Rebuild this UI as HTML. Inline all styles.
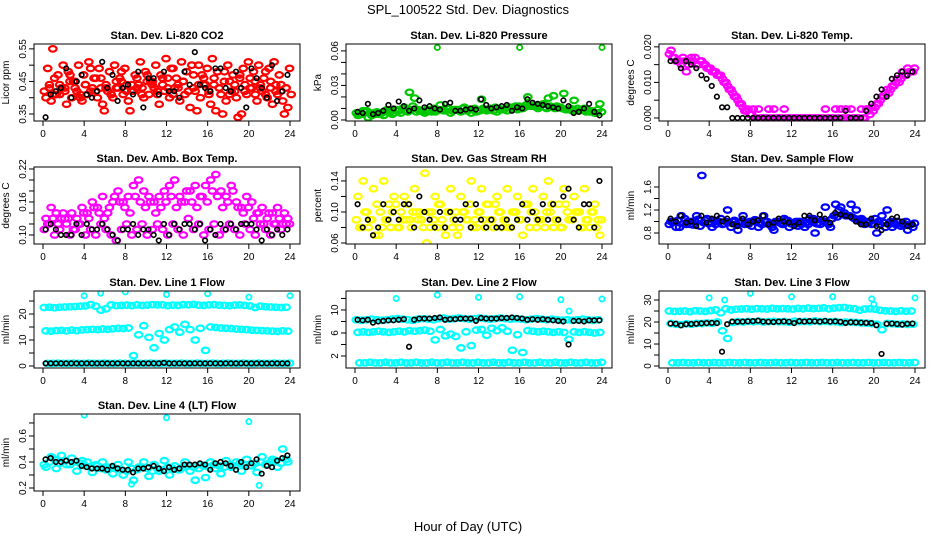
<!DOCTYPE html>
<html><head><meta charset="utf-8"><style>
html,body{margin:0;padding:0;background:#fff;}
svg{display:block;font-family:"Liberation Sans",sans-serif;}
</style></head><body>
<svg id="chart" width="936" height="540" viewBox="0 0 936 540">
<text x="468" y="14" text-anchor="middle" font-size="13">SPL_100522  Std. Dev. Diagnostics</text>
<text x="468" y="531" text-anchor="middle" font-size="13">Hour of Day (UTC)</text>
</svg>
<script>
const hourTicks=[0,4,8,12,16,20,24];
// CO2
const co2Red1=[0.42,0.44,0.46,0.41,0.43,0.47,0.45,0.40,0.44,0.49,0.42,0.46,0.43,0.41,0.45,0.48,0.44,0.42,0.46,0.43,0.47,0.45,0.41,0.44,0.46,0.49,0.43,0.45,0.42,0.47,0.50,0.44,0.41,0.46,0.43,0.48,0.45,0.42,0.47,0.44,0.46,0.41,0.43,0.48,0.45,0.42,0.44,0.43];
const co2Red2=[0.40,0.39,0.41,0.43,0.38,0.40,0.42,0.39,0.41,0.43,0.40,0.38,0.42,0.40,0.43,0.41,0.39,0.42,0.44,0.40,0.41,0.43,0.38,0.42,0.40,0.43,0.39,0.41,0.37,0.42,0.40,0.44,0.38,0.36,0.41,0.39,0.42,0.40,0.35,0.41,0.43,0.39,0.42,0.40,0.38,0.41,0.39,0.37];
const co2Red3=[0.49,0.55,0.47,0.50,0.48,0.45,0.50,0.47,0.51,0.46,0.49,0.36,0.48,0.50,0.46,0.49,0.36,0.47,0.51,0.48,0.45,0.50,0.47,0.52,0.49,0.46,0.51,0.48,0.50,0.36,0.47,0.49,0.52,0.48,0.35,0.50,0.47,0.34,0.49,0.51,0.48,0.50,0.46,0.49,0.51,0.47,0.35,0.49];
const co2Red4=[0.43,0.41,0.44,0.42,0.45,0.43,0.41,0.44,0.42,0.46,0.43,0.44,0.41,0.43,0.45,0.42,0.44,0.43,0.41,0.45,0.44,0.42,0.46,0.43,0.41,0.44,0.45,0.42,0.43,0.44,0.46,0.42,0.44,0.43,0.45,0.41,0.44,0.46,0.42,0.43,0.45,0.44,0.41,0.43,0.44,0.42,0.43,0.41];
const co2Black=[0.34,0.41,0.42,0.43,0.49,0.40,0.45,0.47,0.41,0.40,0.42,0.51,0.43,0.47,0.39,0.43,0.44,0.41,0.48,0.37,0.46,0.46,0.41,0.48,0.42,0.42,0.40,0.48,0.44,0.54,0.44,0.43,0.42,0.49,0.49,0.43,0.42,0.48,0.43,0.37,0.49,0.46,0.43,0.40,0.50,0.39,0.42,0.47];
// Pressure
const presGreen1=[0.006,0.005,0.008,0.004,0.007,0.006,0.009,0.005,0.008,0.010,0.007,0.012,0.009,0.007,0.008,0.010,0.009,0.008,0.010,0.009,0.008,0.011,0.009,0.010,0.008,0.009,0.010,0.011,0.009,0.010,0.011,0.012,0.010,0.013,0.012,0.011,0.013,0.010,0.011,0.012,0.010,0.009,0.008,0.010,0.009,0.008,0.007,0.009];
const presGreen2=[0.004,0.008,0.002,0.006,0.005,0.004,0.007,0.006,0.008,0.011,0.024,0.019,0.008,0.006,0.009,0.007,0.013,0.008,0.006,0.009,0.007,0.008,0.006,0.007,0.018,0.008,0.010,0.007,0.009,0.008,0.011,0.009,0.010,0.020,0.012,0.010,0.014,0.019,0.021,0.011,0.023,0.009,0.017,0.008,0.010,0.007,0.006,0.014];
const presGreen3=[0.005,0.007,0.006,0.005,0.006,0.008,0.007,0.009,0.006,0.008,0.009,0.007,0.008,0.009,0.007,0.008,0.009,0.010,0.008,0.009,0.010,0.008,0.009,0.008,0.010,0.009,0.008,0.010,0.009,0.011,0.010,0.012,0.011,0.012,0.013,0.012,0.011,0.012,0.010,0.011,0.009,0.010,0.008,0.009,0.007,0.008,0.006,0.007];
const presOutX=[8,16,24];
const presOutY=[0.063,0.063,0.063];
const presBlack=[0.007,0.006,0.014,0.005,0.006,0.008,0.013,0.010,0.016,0.012,0.008,0.010,0.017,0.011,0.012,0.010,0.009,0.014,0.015,0.008,0.008,0.009,0.010,0.009,0.018,0.013,0.010,0.011,0.012,0.013,0.008,0.011,0.010,0.018,0.015,0.014,0.013,0.012,0.011,0.010,0.017,0.012,0.006,0.007,0.010,0.014,0.007,0.004];
// Li-820 temp
const tempMag1=[0.018,0.017,0.016,0.016,0.016,0.017,0.016,0.015,0.014,0.013,0.012,0.010,0.008,0.006,0.004,0.002,0.001,0,0,0,0,0,0,0,0,0,0,0,0,0,0,0,0,0,0,0,0,0,0,0.001,0.003,0.005,0.007,0.008,0.010,0.011,0.012,0.013];
const tempMag2=[0.019,0.016,0.015,0.013,0.017,0.015,0.016,0.014,0.013,0.012,0.011,0.009,0.007,0.005,0.003,0.0025,0.0025,0.0025,0,0.0025,0.0025,0,0.0025,0,0,0,0,0,0,0,0.0025,0,0.0025,0.0025,0.0025,0.0025,0,0.0025,0.0025,0.003,0.004,0.006,0.008,0.009,0.011,0.013,0.014,0.013];
const tempMag3=[0.017,0.016,0.017,0.015,0.016,0.015,0.015,0.014,0.013,0.012,0.010,0.008,0.006,0.004,0.002,0.001,0,0,0,0,0,0,0,0,0,0,0,0,0,0,0,0,0,0,0,0,0,0,0.002,0.002,0.004,0.006,0.007,0.009,0.010,0.012,0.013,0.014];
const tempBlack=[0.016,0.016,0.014,0.016,0.015,0.014,0.012,0.011,0.009,0.006,0.003,0.003,0,0,0,0,0,0,0,0,0,0,0,0,0,0,0,0,0,0,0,0,0,0,0.002,0,0,0,0.002,0.004,0.006,0.008,0.006,0.011,0.012,0.013,0.012,0.013];
// Amb box temp
const ambLow=[0.11,0.12,0.10,0.11,0.13,0.10,0.11,0.12,0.10,0.11,0.10,0.12,0.11,0.10,0.09,0.11,0.12,0.10,0.11,0.12,0.10,0.11,0.12,0.11,0.10,0.12,0.11,0.10,0.13,0.11,0.12,0.10,0.11,0.12,0.10,0.11,0.12,0.11,0.10,0.12,0.11,0.10,0.12,0.11,0.10,0.12,0.11,0.12];
const ambHigh=[0.13,0.15,0.14,0.13,0.12,0.14,0.13,0.15,0.14,0.16,0.15,0.17,0.14,0.16,0.18,0.16,0.17,0.19,0.20,0.18,0.17,0.16,0.17,0.18,0.19,0.20,0.17,0.16,0.18,0.19,0.17,0.19,0.20,0.21,0.18,0.17,0.19,0.16,0.15,0.17,0.16,0.14,0.15,0.13,0.14,0.15,0.12,0.13];
const ambMid=[0.12,0.13,0.12,0.14,0.13,0.11,0.12,0.14,0.13,0.15,0.14,0.13,0.15,0.17,0.16,0.15,0.14,0.17,0.16,0.15,0.16,0.14,0.15,0.16,0.17,0.15,0.16,0.18,0.16,0.15,0.17,0.16,0.18,0.17,0.15,0.16,0.18,0.15,0.14,0.15,0.13,0.14,0.12,0.14,0.12,0.13,0.14,0.12];
const ambBlack=[0.11,0.12,0.11,0.10,0.10,0.10,0.12,0.10,0.12,0.11,0.11,0.12,0.11,0.10,0.09,0.11,0.11,0.12,0.10,0.11,0.11,0.10,0.09,0.12,0.10,0.12,0.11,0.12,0.12,0.11,0.12,0.09,0.11,0.10,0.12,0.11,0.12,0.11,0.12,0.12,0.12,0.11,0.09,0.11,0.10,0.11,0.10,0.11];
// Gas stream RH
const rhYel1=[0.09,0.08,0.10,0.09,0.11,0.08,0.09,0.10,0.08,0.09,0.11,0.10,0.09,0.08,0.10,0.09,0.11,0.08,0.10,0.09,0.08,0.10,0.11,0.09,0.10,0.08,0.09,0.11,0.10,0.09,0.08,0.10,0.09,0.11,0.10,0.08,0.09,0.10,0.11,0.09,0.08,0.10,0.09,0.10,0.08,0.09,0.10,0.09];
const rhYel2=[0.12,0.14,0.08,0.13,0.07,0.14,0.11,0.12,0.08,0.12,0.09,0.13,0.10,0.15,0.08,0.12,0.11,0.07,0.13,0.10,0.12,0.09,0.14,0.08,0.13,0.11,0.09,0.12,0.08,0.13,0.10,0.12,0.07,0.11,0.13,0.09,0.12,0.14,0.08,0.11,0.13,0.09,0.12,0.10,0.13,0.08,0.11,0.07];
const rhYel3=[0.08,0.10,0.09,0.07,0.10,0.09,0.08,0.11,0.10,0.09,0.08,0.10,0.09,0.06,0.10,0.08,0.09,0.10,0.08,0.07,0.10,0.09,0.08,0.10,0.09,0.11,0.08,0.10,0.09,0.08,0.10,0.09,0.11,0.08,0.10,0.09,0.08,0.10,0.09,0.08,0.11,0.09,0.10,0.08,0.09,0.10,0.08,0.09];
const rhBlack=[0.11,0.08,0.09,0.07,0.08,0.11,0.09,0.10,0.09,0.11,0.11,0.08,0.12,0.10,0.09,0.08,0.10,0.08,0.10,0.09,0.09,0.11,0.08,0.11,0.09,0.08,0.09,0.08,0.08,0.09,0.08,0.09,0.11,0.09,0.10,0.09,0.11,0.09,0.11,0.09,0.12,0.13,0.09,0.08,0.11,0.11,0.08,0.14];
// Sample flow
const flowBlue1=[0.95,1.0,0.9,1.05,0.95,1.0,0.92,1.02,0.98,0.95,1.05,1.0,0.9,0.95,1.0,0.98,0.92,1.02,0.95,1.0,0.9,1.0,0.95,1.02,0.98,0.92,1.0,0.95,1.05,0.98,1.0,0.95,1.1,1.2,1.15,1.1,1.05,1.0,0.95,1.0,1.05,0.95,0.9,1.0,0.95,0.92,1.0,0.95];
const flowBlue2=[1.0,0.9,1.1,0.95,1.0,1.1,1.8,1.05,0.9,1.0,0.95,1.2,1.0,0.85,1.1,0.95,1.0,0.9,1.1,0.95,0.85,1.0,1.05,0.9,0.95,1.0,0.9,1.05,0.8,0.95,1.25,0.9,1.3,1.25,1.1,1.3,1.2,1.05,1.0,0.95,0.8,1.1,1.2,0.9,1.0,0.95,0.85,0.9];
const flowBlue3=[0.98,1.02,0.96,1.0,0.94,1.04,0.98,0.96,1.02,1.0,0.96,0.98,1.02,0.97,0.95,1.0,1.03,0.97,0.99,0.94,1.0,0.97,1.02,0.96,1.0,0.95,0.98,1.0,0.96,1.02,0.98,1.05,1.08,1.12,1.1,1.07,1.04,1.02,0.98,0.96,1.0,0.98,0.95,0.97,0.99,0.96,0.94,0.97];
const flowBlack=[1.05,1.0,1.1,0.98,1.0,0.92,1.1,0.98,1.05,1.1,1.0,1.05,0.95,0.92,1.05,0.95,1.0,1.02,1.1,0.95,0.98,1.05,1.0,0.98,0.92,0.98,1.1,1.1,1.02,1.12,1.05,0.98,1.15,1.12,1.1,1.08,1.0,0.95,0.95,1.05,0.92,0.85,0.95,1.05,1.08,1.0,0.92,0.95];
// Line 1
const l1Top=[22.5,22.6,22.4,22.6,22.7,22.8,22.9,23,23.1,23.6,23,21.5,22,23.5,23.2,23.3,23.4,23.2,23.5,23.3,23.4,23.6,23.5,23.5,23.2,23.4,23.3,23.6,23.5,23.7,23.4,23.3,23.5,23.6,23.4,23.3,23.2,23.4,23.5,23.3,23.1,22.5,23,22.8,22.7,22.6,22.5,22.6];
const l1Mid=[13.5,13.4,13.6,13.7,13.5,13.8,13.6,13.9,14,14.1,14,14.2,14.1,14.3,14.5,14.4,14.6,4,12,15.5,11,7,12.5,10,14,15,13,16,14,10,14.5,6,15,14.8,14.6,14.5,14.4,14.2,14.1,14,13.8,13.7,13.6,13.5,13.4,13.3,13.5,13.4];
const l1Low=[1,1,1.1,1,1,1.1,1,1,1.1,1,1,1.1,1,1,1.1,1,1,1.1,1,1,1.1,1,1,1.1,1,1,1.1,1,1,1.1,1,1,1.1,1,1,1.1,1,1,1.1,1,1,1.1,1,1,1.1,1,1,1.1];
const l1OutX=[4,5.6,8,12,16,20,24];
const l1OutY=[27,28,28.5,27.5,27.8,26.5,27];
const l1Black=[1,1,1,1,1,1,1,1,1,1,1,1,1,1,1,1,1,1,1,1,1,1,1,1.2,1,1,1,1,1,1,1,1,1,1,1,1,1,1,1,1,1,1,1,1,1,1,1,1];
// Line 2
const l2Top=[8.3,8.2,8.3,8.4,8.3,8.2,8.3,8.4,8.5,8.4,8.3,8.2,8.4,8.5,8.4,8.3,8.5,8.6,8.4,8.5,8.6,8.5,8.4,8.5,8.6,8.5,8.4,8.5,8.6,8.5,8.4,8.5,8.4,8.3,8.4,8.5,8.4,8.3,8.4,8.3,8.2,8.3,8.2,8.3,8.4,8.3,8.2,8.3];
const l2Mid=[6.1,6.2,6.1,6.2,6.3,6.2,6.1,6.2,6.3,6.2,6.4,6.3,6.4,6.5,6.3,4.8,6.6,5.5,5.8,5.4,3.4,6.2,3.8,6.5,6.6,5.6,6.8,6.4,6.9,6.3,3.0,5.7,2.6,6.4,6.3,6.2,6.3,6.2,6.1,6.2,6.1,4.9,6.2,6.1,6.2,6.1,6.0,6.1];
const l2Low=[0.8,0.8,0.9,0.8,0.8,0.9,0.8,0.8,0.9,0.8,0.8,0.9,0.8,0.8,0.9,0.8,0.8,0.9,0.8,0.8,0.9,0.8,0.8,0.9,0.8,0.8,0.9,0.8,0.8,0.9,0.8,0.8,0.9,0.8,0.8,0.9,0.8,0.8,0.9,0.8,0.8,0.9,0.8,0.8,0.9,0.8,0.8,0.9];
const l2OutX=[4,8,12,16,20,20.8,24];
const l2OutY=[12,12.6,12.2,12.3,11.8,9.8,11.9];
const l2Black=[8.3,8.2,8.3,7.8,8.0,8.1,8.2,8.2,8.3,8.4,3.6,8.3,8.5,8.5,8.5,8.6,8.7,8.3,8.4,8.4,8.5,8.5,8.5,8.1,8.6,8.5,8.5,8.5,8.6,8.6,8.7,8.6,8.5,8.3,8.4,8.3,8.4,8.3,8.2,8.1,8.0,4.0,8.1,8.1,8.0,8.2,8.2,8.2];
// Line 3
const l3Top=[25,24.8,24.9,25,24.7,25.1,25,24.8,25.2,25.5,24.2,26,25.5,25.8,25.9,26,25.8,26.1,26,25.9,26.2,26,26.1,26,25.9,26.2,26,26.3,26.1,26.2,26.4,26,26.3,26.5,26.6,26.2,26,25.4,25.9,26,25.8,25.3,25.1,25,24.8,25.1,24.9,25];
const l3Mid=[19.3,19,18.8,19.2,19,19.4,19.3,19.6,19.4,20,16,12.5,19.8,20.2,20,20.3,20.1,20.4,20,20.2,20.3,20.1,20.2,19.9,20.4,20.2,20.3,20.1,20.5,20.2,20.3,20.1,20.2,19.8,20,19.9,19.8,19.6,19.5,19.3,19,16.5,19.3,19.2,19,19.1,18.9,19];
const l3Low=[1.5,1.5,1.6,1.5,1.5,1.6,1.5,1.5,1.6,1.5,1.5,1.6,1.5,1.5,1.6,1.5,1.5,1.6,1.5,1.5,1.6,1.5,1.5,1.6,1.5,1.5,1.6,1.5,1.5,1.6,1.5,1.5,1.6,1.5,1.5,1.6,1.5,1.5,1.6,1.5,1.5,1.6,1.5,1.5,1.6,1.5,1.5,1.6];
const l3OutX=[4,5.5,8,12,16,19.8,20,24];
const l3OutY=[31,30,33,31.5,31.5,30.5,28,31];
const l3Black=[19.3,19.2,18.5,19,19.1,19.2,19.4,19.5,19.6,19.5,6.5,19,20.2,20.1,20.2,20.3,20.4,20.6,20.2,20.1,20.0,20.2,20.3,20.1,19.5,20.4,20.2,20.4,20.3,20.2,20.5,20.2,20.3,20.1,19.6,19.9,19.8,19.7,19.6,19.5,18.5,5.5,19.2,19.3,19.1,18.8,19.2,19.3];
// Line 4
const l4Cyan1=[0.38,0.40,0.42,0.39,0.41,0.38,0.40,0.39,0.37,0.36,0.38,0.35,0.34,0.36,0.35,0.34,0.33,0.35,0.34,0.36,0.35,0.33,0.35,0.34,0.36,0.35,0.34,0.36,0.37,0.36,0.35,0.37,0.36,0.38,0.37,0.36,0.38,0.37,0.39,0.38,0.37,0.39,0.40,0.38,0.40,0.41,0.39,0.42];
const l4Cyan2=[0.36,0.44,0.35,0.45,0.38,0.43,0.33,0.41,0.40,0.32,0.37,0.40,0.36,0.31,0.38,0.30,0.40,0.26,0.36,0.40,0.29,0.38,0.33,0.41,0.30,0.37,0.34,0.40,0.33,0.26,0.38,0.28,0.40,0.35,0.31,0.41,0.36,0.40,0.33,0.42,0.37,0.32,0.44,0.38,0.42,0.36,0.50,0.40];
const l4OutX=[4,12,20,8.6,21];
const l4OutY=[0.76,0.74,0.71,0.23,0.22];
const l4Black=[0.42,0.43,0.40,0.40,0.41,0.40,0.41,0.37,0.36,0.35,0.35,0.35,0.34,0.37,0.35,0.34,0.34,0.32,0.35,0.35,0.36,0.37,0.35,0.33,0.36,0.34,0.35,0.38,0.38,0.38,0.39,0.38,0.34,0.39,0.40,0.39,0.37,0.34,0.40,0.36,0.39,0.42,0.31,0.37,0.36,0.41,0.43,0.45];

const NS='http://www.w3.org/2000/svg';
const svg=document.getElementById('chart');
function mk(tag,attrs,parent){const e=document.createElementNS(NS,tag);for(const k in attrs)e.setAttribute(k,attrs[k]);(parent||svg).appendChild(e);return e;}

const panels=[
 {key:'co2',title:'Stan. Dev. Li-820 CO2',ylab:'Licor ppm',col:0,row:0,yb:0.3285,yt:0.565,ticks:[0.35,0.40,0.45,0.50,0.55],labels:['0.35','','0.45','','0.55'],color:'#ff0000',series:[co2Red1,co2Red2,co2Red3,co2Red4],black:co2Black},
 {key:'pressure',title:'Stan. Dev. Li-820 Pressure',ylab:'kPa',col:1,row:0,yb:-0.0009,yt:0.066,ticks:[0,0.01,0.02,0.03,0.04,0.05,0.06],labels:['0.00','','','0.03','','','0.06'],color:'#00c800',series:[presGreen1,presGreen2,presGreen3],outX:presOutX,outY:presOutY,black:presBlack},
 {key:'li820-temp',title:'Stan. Dev. Li-820 Temp.',ylab:'degrees C',col:2,row:0,yb:-0.00085,yt:0.0208,ticks:[0,0.005,0.01,0.015,0.02],labels:['0.000','','0.010','','0.020'],color:'#ff00ff',series:[tempMag1,tempMag2,tempMag3],black:tempBlack},
 {key:'amb-box-temp',title:'Stan. Dev. Amb. Box Temp.',ylab:'degrees C',col:0,row:1,yb:0.0836,yt:0.2236,ticks:[0.10,0.12,0.14,0.16,0.18,0.20,0.22],labels:['0.10','','','0.16','','','0.22'],color:'#ff00ff',series:[ambLow,ambHigh,ambMid],black:ambBlack},
 {key:'gas-rh',title:'Stan. Dev. Gas Stream RH',ylab:'percent',col:1,row:1,yb:0.0587,yt:0.158,ticks:[0.06,0.08,0.10,0.12,0.14],labels:['0.06','','0.10','','0.14'],color:'#ffff00',series:[rhYel1,rhYel2,rhYel3],black:rhBlack},
 {key:'sample-flow',title:'Stan. Dev. Sample Flow',ylab:'ml/min',col:2,row:1,yb:0.609,yt:1.948,ticks:[0.8,1.0,1.2,1.4,1.6],labels:['0.8','','1.2','','1.6'],color:'#0000ff',series:[flowBlue1,flowBlue2,flowBlue3],black:flowBlack},
 {key:'line1-flow',title:'Stan. Dev. Line 1 Flow',ylab:'ml/min',col:0,row:2,yb:-0.77,yt:28.85,ticks:[0,5,10,15,20,25],labels:['0','','10','','20',''],color:'#00ffff',series:[l1Top,l1Mid,l1Low],outX:l1OutX,outY:l1OutY,black:l1Black},
 {key:'line2-flow',title:'Stan. Dev. Line 2 Flow',ylab:'ml/min',col:1,row:2,yb:-0.09,yt:13.3,ticks:[2,4,6,8,10,12],labels:['2','','6','','10',''],color:'#00ffff',series:[l2Top,l2Mid,l2Low],outX:l2OutX,outY:l2OutY,black:l2Black},
 {key:'line3-flow',title:'Stan. Dev. Line 3 Flow',ylab:'ml/min',col:2,row:2,yb:-0.9,yt:34.1,ticks:[0,5,10,15,20,25,30],labels:['0','','10','','20','','30'],color:'#00ffff',series:[l3Top,l3Mid,l3Low],outX:l3OutX,outY:l3OutY,black:l3Black},
 {key:'line4-flow',title:'Stan. Dev. Line 4 (LT) Flow',ylab:'ml/min',col:0,row:3,yb:0.177,yt:0.769,ticks:[0.2,0.3,0.4,0.5,0.6,0.7],labels:['0.2','','0.4','','0.6',''],color:'#00ffff',series:[l4Cyan1,l4Cyan2],outX:l4OutX,outY:l4OutY,black:l4Black}
];
const colLeft=[34,346,659], rowTop=[44,167,291,414], W=266, H=77;

panels.forEach(p=>{
 const L=colLeft[p.col], T=rowTop[p.row], B=T+H;
 const g=mk('g',{});
 
 
 const xs=h=>L+9+h*(247/24);
 const ys=v=>B-(v-p.yb)/(p.yt-p.yb)*H;
 const t=mk('text',{x:L+W/2,y:T-5,'text-anchor':'middle','font-size':11,'font-weight':'bold'},g);
 t.textContent=p.title;
 
 
 const yl=mk('text',{transform:`translate(${L-25},${T+H/2}) rotate(-90)`,'text-anchor':'middle','font-size':10},g);
 yl.textContent=p.ylab;
 
 
 const clip=mk('clipPath',{id:'clip-'+p.key},g);
 mk('rect',{x:L,y:T,width:W,height:H},clip);
 const pts=mk('g',{'clip-path':`url(#clip-${p.key})`,fill:'none'},g);
 
 
 p.series.forEach((arr,si)=>{
  const n=arr.length;
  const rx=(247/n)/2+1.2;
  arr.forEach((v,i)=>{
   const c=mk('ellipse',{cx:xs((i+0.25+si*0.33)*24/n),cy:ys(v),rx:rx,ry:2.8,stroke:p.color,'stroke-width':2.2},pts);
   
   
  });
 });
 if(p.outX){p.outX.forEach((x,i)=>{
  const c=mk('circle',{cx:xs(x),cy:ys(p.outY[i]),r:2.6,stroke:p.color,'stroke-width':1.8},pts);
  
  
 });}
 p.black.forEach((v,i)=>{
  const c=mk('circle',{cx:xs((i+0.5)*24/p.black.length),cy:ys(v),r:2.3,stroke:'#000','stroke-width':1.6},pts);
  
  
 });
 const box=mk('rect',{x:L,y:T,width:W,height:H,fill:'none',stroke:'#000','stroke-width':1},g);
 
 
 mk('line',{x1:xs(0),x2:xs(24),y1:B,y2:B,stroke:'#000'},g);
 hourTicks.forEach(h=>{
  mk('line',{x1:xs(h),x2:xs(h),y1:B,y2:B+5,stroke:'#000'},g);
  const tl=mk('text',{x:xs(h),y:B+16,'text-anchor':'middle','font-size':10},g);
  tl.textContent=h;
  
  
 });
 mk('line',{x1:L,x2:L,y1:ys(p.ticks[0]),y2:ys(p.ticks[p.ticks.length-1]),stroke:'#000'},g);
 p.ticks.forEach((v,i)=>{
  const y=ys(v);
  mk('line',{x1:L-5,x2:L,y1:y,y2:y,stroke:'#000'},g);
  if(p.labels[i]){
   const tl=mk('text',{transform:`translate(${L-8},${y}) rotate(-90)`,'text-anchor':'middle','font-size':10},g);
   tl.textContent=p.labels[i];
   
   
  }
 });
});
</script>
</body></html>
